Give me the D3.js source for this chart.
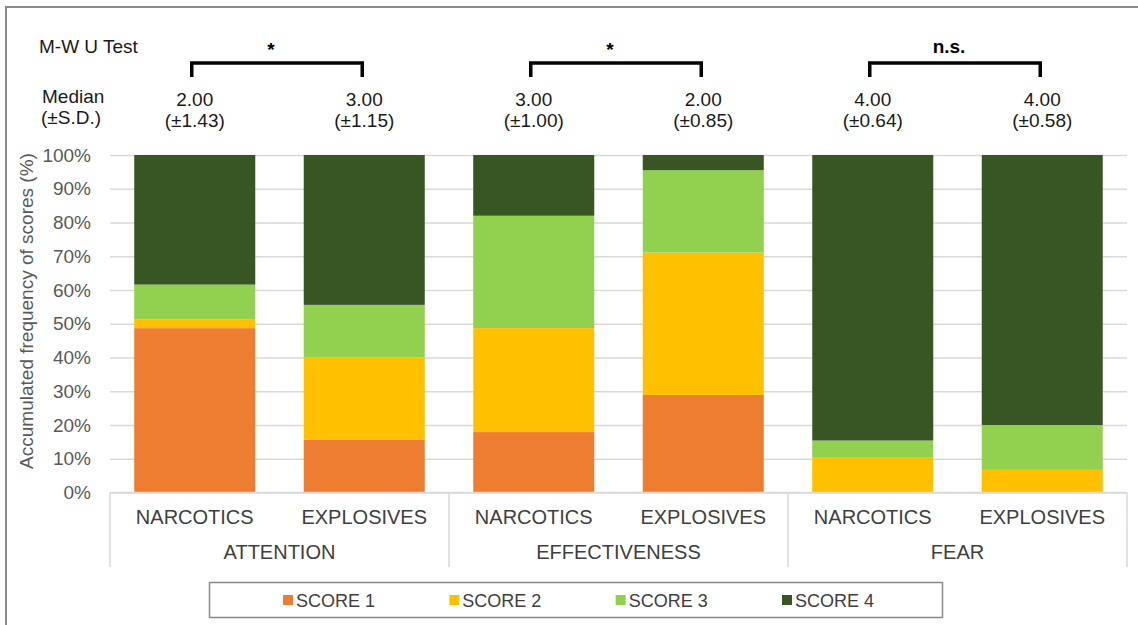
<!DOCTYPE html>
<html>
<head>
<meta charset="utf-8">
<script src="https://cdn.jsdelivr.net/npm/d3@7"></script>
<style>
  html, body { margin: 0; padding: 0; background: #fff; }
  svg { display: block; font-family: Arial, "Liberation Sans", sans-serif; }
</style>
</head>
<body>
<svg id="chart" width="1138" height="625"></svg>
<script>
// Score distributions (% of respondents) per dog type within each dimension
const groups = ["ATTENTION", "EFFECTIVENESS", "FEAR"];
const dogTypes = ["NARCOTICS", "EXPLOSIVES"];
const scoreNames = ["SCORE 1", "SCORE 2", "SCORE 3", "SCORE 4"];
const scoreColors = ["#ED7D31", "#FFC000", "#92D050", "#375623"];

const score1 = [48.7, 15.6, 17.9, 28.9, 0.0, 0.0];
const score2 = [2.6, 24.4, 30.8, 42.2, 10.3, 6.7];
const score3 = [10.3, 15.6, 33.3, 24.4, 5.1, 13.3];
const score4 = [38.4, 44.4, 18.0, 4.5, 84.6, 80.0];

const medians = ["2.00", "3.00", "3.00", "2.00", "4.00", "4.00"];
const sdLabels = ["(±1.43)", "(±1.15)", "(±1.00)", "(±0.85)", "(±0.64)", "(±0.58)"];
const testResults = ["*", "*", "n.s."];

const yTicks = [0, 10, 20, 30, 40, 50, 60, 70, 80, 90, 100];

// Build rows for stacking
const keys = [];
groups.forEach(g => dogTypes.forEach(t => keys.push(g + "|" + t)));
const rows = keys.map((k, i) => ({
  key: k, group: k.split("|")[0], type: k.split("|")[1],
  "SCORE 1": score1[i], "SCORE 2": score2[i], "SCORE 3": score3[i], "SCORE 4": score4[i]
}));

const svg = d3.select("#chart");
const plot = { left: 110, right: 1127, top: 155, bottom: 492.5 };

const x = d3.scaleBand().domain(keys).range([plot.left, plot.right])
  .paddingInner(0.286).paddingOuter(0.143);
const y = d3.scaleLinear().domain([0, 100]).range([plot.bottom, plot.top]);
const color = d3.scaleOrdinal().domain(scoreNames).range(scoreColors);

// Figure frame (left and top edges)
svg.append("path")
  .attr("d", "M6,625 L6,7 L1138,7")
  .attr("fill", "none").attr("stroke", "#8a8a8a").attr("stroke-width", 2);

// Gridlines + y axis labels
const yAxis = d3.axisLeft(y).tickValues(yTicks).tickFormat(d => d + "%")
  .tickSize(-(plot.right - plot.left)).tickPadding(19);
const gy = svg.append("g").attr("transform", `translate(${plot.left},0)`).call(yAxis);
gy.select(".domain").remove();
gy.selectAll(".tick line").attr("stroke", "#d9d9d9").attr("stroke-width", 1.5);
gy.selectAll(".tick text").attr("fill", "#595959").style("font-size", "19px");

// Y axis title
svg.append("text")
  .attr("transform", "translate(33,311) rotate(-90)")
  .attr("text-anchor", "middle")
  .attr("fill", "#595959").style("font-size", "19px")
  .text("Accumulated frequency of scores (%)");

// Stacked bars
const stacked = d3.stack().keys(scoreNames)(rows);
svg.append("g").selectAll("g").data(stacked).join("g")
  .attr("fill", d => color(d.key))
  .selectAll("rect").data(d => d).join("rect")
  .attr("x", d => x(d.data.key))
  .attr("width", x.bandwidth())
  .attr("y", d => y(Math.min(100, d[1])))
  .attr("height", d => Math.max(0, y(d[0]) - y(Math.min(100, d[1]))));

// Category axis: baseline, dog-type labels, group labels, separators
const step = x.step();
const sepOffset = step * x.paddingOuter();
svg.append("line")
  .attr("x1", plot.left).attr("x2", plot.right)
  .attr("y1", plot.bottom).attr("y2", plot.bottom)
  .attr("stroke", "#d9d9d9").attr("stroke-width", 1.5);

const xAxis = d3.axisBottom(x).tickFormat(k => k.split("|")[1]).tickSize(0).tickPadding(0);
const gx = svg.append("g").attr("transform", `translate(0,${plot.bottom})`).call(xAxis);
gx.select(".domain").remove();
gx.selectAll(".tick text")
  .attr("dy", null).attr("y", 31)
  .attr("fill", "#404040").style("font-size", "20px");

const groupBounds = groups.map(g => {
  const first = x(g + "|" + dogTypes[0]) - sepOffset;
  const last = x(g + "|" + dogTypes[dogTypes.length - 1]) + x.bandwidth() + sepOffset;
  return { g, x0: first, x1: last };
});
const sepXs = [groupBounds[0].x0].concat(groupBounds.map(b => b.x1));
svg.append("g").selectAll("line").data(sepXs).join("line")
  .attr("x1", d => d).attr("x2", d => d)
  .attr("y1", plot.bottom).attr("y2", 567)
  .attr("stroke", "#d9d9d9").attr("stroke-width", 1.5);
svg.append("g").selectAll("text").data(groupBounds).join("text")
  .attr("x", d => (d.x0 + d.x1) / 2).attr("y", 559)
  .attr("text-anchor", "middle")
  .attr("fill", "#404040").style("font-size", "20px")
  .text(d => d.g);

// Median (±S.D.) labels above each bar
const ann = svg.append("g").attr("fill", "#1a1a1a").style("font-size", "19px");
ann.append("text").attr("x", 39).attr("y", 53).text("M-W U Test");
ann.append("text").attr("x", 42).attr("y", 103).text("Median");
ann.append("text").attr("x", 41).attr("y", 124).text("(±S.D.)");
keys.forEach((k, i) => {
  const cx = x(k) + x.bandwidth() / 2;
  ann.append("text").attr("x", cx).attr("y", 106).attr("text-anchor", "middle").text(medians[i]);
  ann.append("text").attr("x", cx).attr("y", 127).attr("text-anchor", "middle").text(sdLabels[i]);
});

// Mann-Whitney brackets
groups.forEach((g, i) => {
  const xa = x(g + "|" + dogTypes[0]) + x.bandwidth() / 2 - 3;
  const xb = x(g + "|" + dogTypes[1]) + x.bandwidth() / 2 - 2;
  svg.append("path")
    .attr("d", `M${xa},77 L${xa},63 L${xb},63 L${xb},77`)
    .attr("fill", "none").attr("stroke", "#000").attr("stroke-width", 3.5);
  svg.append("text")
    .attr("x", (xa + xb) / 2 - 6).attr("y", testResults[i] === "*" ? 56 : 53)
    .attr("text-anchor", "middle")
    .attr("fill", "#000").style("font-size", "19px").style("font-weight", "bold")
    .text(testResults[i]);
});

// Legend
const legend = svg.append("g");
legend.append("rect")
  .attr("x", 209.5).attr("y", 582.5).attr("width", 733).attr("height", 35)
  .attr("fill", "#fff").attr("stroke", "#8a8a8a").attr("stroke-width", 1.5);
const legendX = d3.scalePoint().domain(scoreNames).range([283, 782]);
const items = legend.selectAll("g.item").data(scoreNames).join("g")
  .attr("class", "item")
  .attr("transform", d => `translate(${legendX(d)},600)`);
items.append("rect").attr("x", 0).attr("y", -5).attr("width", 10).attr("height", 10)
  .attr("fill", d => color(d));
items.append("text").attr("x", 13).attr("y", 7)
  .attr("fill", "#404040").style("font-size", "18px")
  .text(d => d);
</script>
</body>
</html>
